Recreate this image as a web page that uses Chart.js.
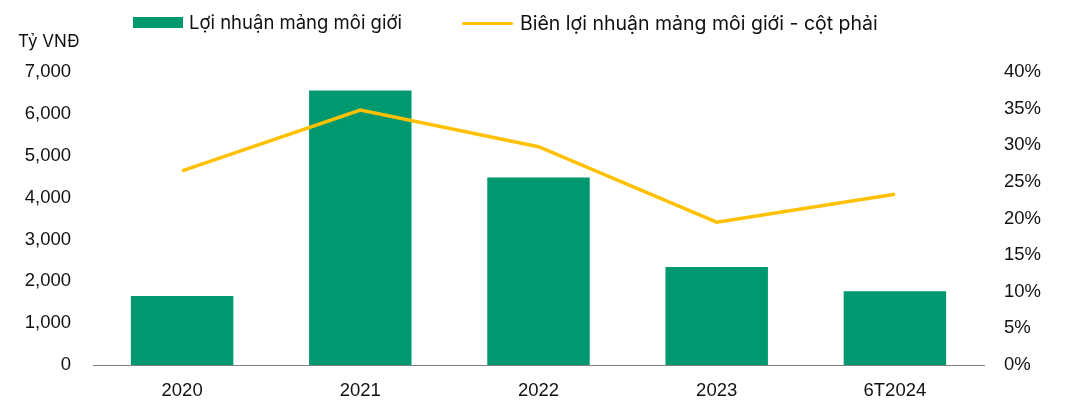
<!DOCTYPE html>
<html>
<head>
<meta charset="utf-8">
<script src="https://cdn.jsdelivr.net/npm/chart.js@4/dist/chart.umd.min.js"></script>
<style>
  body { margin: 0; background: #fff; font-family: "Liberation Sans", Arial, sans-serif; }
  .wrap { position: relative; width: 1070px; height: 402px; }
  .legend { position: absolute; top: 11px; font-family: Inter, "Liberation Sans", sans-serif; font-size: 18.5px; color: #111; display: flex; align-items: center; }
  .legend .box { width: 50px; height: 11px; background: #00996f; margin-right: 6px; }
  .legend .line { width: 51px; height: 3px; background: #ffc000; border-radius: 2px; margin-right: 7px; }
  .unit { position: absolute; left: 18px; top: 31px; font-family: Inter, "Liberation Sans", sans-serif; font-size: 17px; color: #111; }
</style>
</head>
<body>
<div class="wrap">
  <canvas id="chart" width="1070" height="402"></canvas>
  <div class="legend" style="left:133px"><span class="box"></span>Lợi nhuận mảng môi giới</div>
  <div class="legend" style="left:462px; font-size:19.5px"><span class="line"></span>Biên lợi nhuận mảng môi giới - cột phải</div>
  <div class="unit">Tỷ VNĐ</div>
</div>
<script>
// Chart data
const categories = ['2020', '2021', '2022', '2023', '6T2024'];
const brokerProfit = [1650, 6560, 4480, 2340, 1760];
const brokerMargin = [26.5, 34.8, 29.8, 19.5, 23.3];

const tickFont = { family: '"Liberation Sans", Arial, sans-serif', size: 18.5 };

const ctx = document.getElementById('chart').getContext('2d');
new Chart(ctx, {
  data: {
    labels: categories,
    datasets: [
      {
        type: 'line',
        label: 'Biên lợi nhuận mảng môi giới - cột phải',
        data: brokerMargin,
        yAxisID: 'y1',
        borderColor: '#ffc000',
        borderWidth: 3.5,
        pointRadius: 0,
        tension: 0,
        order: 0
      },
      {
        type: 'bar',
        label: 'Lợi nhuận mảng môi giới',
        data: brokerProfit,
        yAxisID: 'y',
        backgroundColor: '#00996f',
        categoryPercentage: 1,
        barPercentage: 0.575,
        order: 1
      }
    ]
  },
  options: {
    responsive: false,
    animation: false,
    layout: { padding: { top: 72, bottom: 0, left: 0, right: 0 } },
    plugins: { legend: { display: false }, tooltip: { enabled: false } },
    scales: {
      x: {
        grid: { display: false, drawTicks: false },
        border: { display: true, color: '#808080', width: 1 },
        ticks: { color: '#111', font: tickFont, padding: 15 },
        afterFit: s => { s.height = 37; }
      },
      y: {
        position: 'left',
        min: 0,
        max: 7000,
        grid: { display: false, drawTicks: false },
        border: { display: false },
        ticks: {
          stepSize: 1000,
          color: '#111',
          font: tickFont,
          padding: 22,
          callback: v => v.toLocaleString('en-US')
        },
        afterFit: s => { s.width = 93; }
      },
      y1: {
        position: 'right',
        min: 0,
        max: 40,
        grid: { display: false, drawTicks: false },
        border: { display: false },
        ticks: {
          stepSize: 5,
          color: '#111',
          font: tickFont,
          padding: 20,
          callback: v => v + '%'
        },
        afterFit: s => { s.width = 86; }
      }
    }
  }
});
</script>
</body>
</html>
